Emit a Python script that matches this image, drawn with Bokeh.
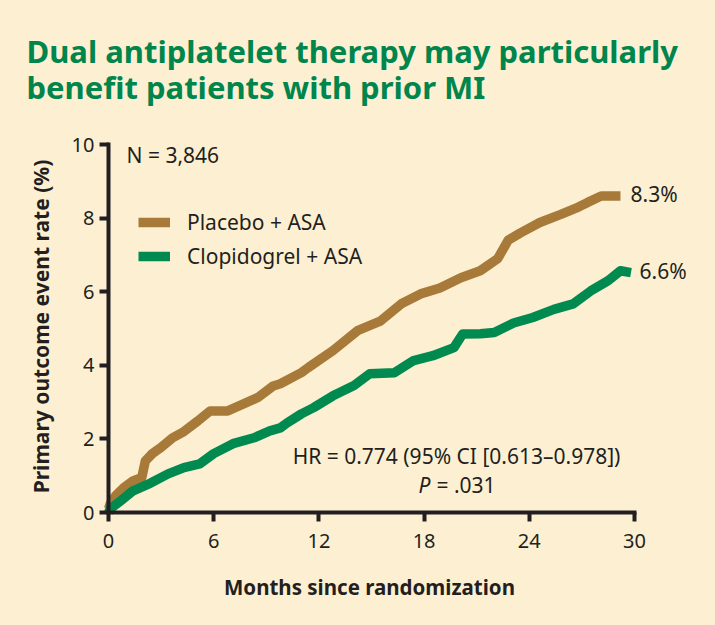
from bokeh.plotting import figure
from bokeh.models import Label, Legend, LegendItem, Range1d, FixedTicker, LinearAxis
from bokeh.embed import file_html
from bokeh.resources import INLINE
import math

# ---- data ----
placebo_months = [0.0, 0.1, 0.4, 0.86, 1.4, 1.9, 2.1, 2.5, 3.0, 3.65, 4.3, 5.1, 5.8, 6.8, 7.7, 8.5,
                  9.4, 9.8, 11.0, 11.4, 12.8, 14.2, 15.5, 16.7, 17.8, 18.9, 20.1, 21.2, 22.2,
                  22.8, 23.5, 24.6, 25.8, 26.8, 27.3, 28.1, 29.2]
placebo_rate = [0.1, 0.24, 0.45, 0.67, 0.86, 0.95, 1.4, 1.6, 1.77, 2.03, 2.2, 2.49, 2.76, 2.76, 2.95, 3.12,
                3.44, 3.5, 3.8, 3.94, 4.4, 4.94, 5.2, 5.67, 5.94, 6.1, 6.38, 6.57, 6.9,
                7.4, 7.6, 7.88, 8.1, 8.3, 8.42, 8.6, 8.6]
clopi_months = [0.0, 0.1, 0.7, 1.4, 2.4, 3.4, 4.3, 5.2, 6.0, 7.1, 8.3, 9.2, 9.8, 10.2, 11.0, 11.7,
                12.8, 14.0, 14.9, 16.3, 17.4, 18.5, 19.7, 20.2, 21.2, 22.0, 23.1, 24.2,
                25.4, 26.5, 27.5, 28.5, 29.2, 29.8]
clopi_rate = [0.0, 0.1, 0.32, 0.59, 0.8, 1.05, 1.22, 1.32, 1.6, 1.87, 2.03, 2.22, 2.3, 2.44, 2.68, 2.85,
              3.17, 3.45, 3.77, 3.8, 4.13, 4.26, 4.48, 4.85, 4.86, 4.89, 5.15, 5.3,
              5.52, 5.67, 6.02, 6.3, 6.57, 6.52]
series_names = ["Placebo + ASA", "Clopidogrel + ASA"]
end_labels = ["8.3%", "6.6%"]
x_ticks = [0, 6, 12, 18, 24, 30]
y_ticks = [0, 2, 4, 6, 8, 10]

# ---- styling ----
BG = "#fdf0d2"
BROWN = "#a87a3a"
GREEN = "#008a50"
TITLE_GREEN = "#00854c"
INK = "#231f20"
FONT = "Noto Sans"

W, H = 699, 609
PX_X0, PX_X30, PX_Y0, PX_Y10 = 108, 634, 512, 144
sx = (PX_X30 - PX_X0) / 30.0
sy = (PX_Y0 - PX_Y10) / 10.0


def dx(px):
    return (px - PX_X0) / sx


def dy(py):
    return (PX_Y0 - py) / sy


p = figure(width=W, height=H, output_backend="svg", toolbar_location=None,
           x_axis_location=None, y_axis_location=None,
           x_range=Range1d(dx(0), dx(W)), y_range=Range1d(dy(H), dy(0)),
           min_border=0)
p.background_fill_color = BG
p.border_fill_color = BG
p.outline_line_color = None
p.grid.visible = False

xa = LinearAxis(fixed_location=0, bounds=(0, 30), ticker=FixedTicker(ticks=x_ticks))
ya = LinearAxis(fixed_location=0, bounds=(0, 10), ticker=FixedTicker(ticks=y_ticks))
for ax in (xa, ya):
    ax.axis_line_width = 4
    ax.axis_line_color = INK
    ax.axis_line_cap = "square"
    ax.major_tick_line_width = 4
    ax.major_tick_line_color = INK
    ax.major_tick_out = 9
    ax.major_tick_in = 0
    ax.minor_tick_line_color = None
    ax.major_label_text_font = FONT
    ax.major_label_text_font_size = "20px"
    ax.major_label_text_color = INK
xa.major_label_standoff = 12
ya.major_label_standoff = 5

r1 = p.line(placebo_months, placebo_rate, line_color=BROWN, line_width=9.5, line_join="round")
r2 = p.line(clopi_months, clopi_rate, line_color=GREEN, line_width=9.5, line_join="round")
p.renderers = [r1, r2]
p.add_layout(xa, "below")
p.add_layout(ya, "left")

legend = Legend(items=[LegendItem(label=series_names[0], renderers=[r1]),
                       LegendItem(label=series_names[1], renderers=[r2])],
                location=(138, H - 270.5), background_fill_alpha=0, border_line_color=None,
                glyph_width=32, glyph_height=30, label_height=30, spacing=4,
                label_standoff=17, padding=0, margin=0,
                label_text_font=FONT, label_text_font_size="21px", label_text_color=INK)
p.add_layout(legend)


def lab(text, px, py, size, bold=False, color=INK, align="left", baseline="middle", angle=0.0, italic=False):
    style = "bold" if bold else ("italic" if italic else "normal")
    p.add_layout(Label(x=dx(px), y=dy(py), text=text, text_font=FONT, text_font_size=size,
                       text_font_style=style, text_color=color, text_align=align,
                       text_baseline=baseline, angle=angle))


# title
lab("Dual antiplatelet therapy may particularly", 26, 50, "31px", bold=True, color=TITLE_GREEN)
lab("benefit patients with prior MI", 26, 86, "31px", bold=True, color=TITLE_GREEN)
# axis titles
lab("Primary outcome event rate (%)", 40, 326, "21px", bold=True, align="center", angle=math.pi / 2)
lab("Months since randomization", 369, 586, "20.5px", bold=True, align="center")
# annotations
lab("N = 3,846", 126, 154, "21px")
lab("HR = 0.774 (95% CI [0.613\u20130.978])", 456, 455, "21px", align="center")
lab("P", 418, 484, "21px", italic=True)
lab("= .031", 436, 484, "21px")
lab(end_labels[0], 630, 193, "21px")
lab(end_labels[1], 639, 270, "21px")

html = file_html(p, INLINE)
html = html.replace("</head>", "<style>html,body{background:#fdf0d2;}</style></head>", 1)
open("out.html", "w").write(html)
